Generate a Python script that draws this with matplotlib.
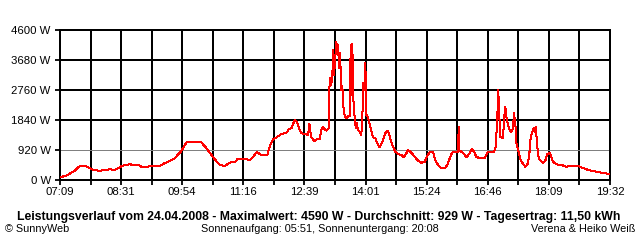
import numpy as np
import matplotlib
matplotlib.use("Agg")
import matplotlib.pyplot as plt

# ---- data (time in minutes since midnight, power in W) ----
minutes = [430, 435, 440, 444, 449, 452, 456, 460, 466, 471, 476, 483, 489, 496, 503, 507, 512, 516, 523, 530, 536,
           539, 543, 550, 559, 564, 570, 577, 583, 587, 592, 595, 600, 606, 613, 620, 623, 627, 631, 636, 640, 645,
           647, 651, 656, 660, 665, 669, 676, 681, 685, 690, 695, 701, 709, 711, 714, 717, 721, 728, 735, 738, 742,
           746, 749, 752, 754, 757, 761, 764, 766, 768, 771, 773, 777, 780, 782, 784, 787, 789, 792,
           792.8, 794.2, 795.5, 796.9, 798.2, 799.2, 800.9, 802.3, 803.6, 804.6, 805.9, 807.3, 809.0, 810.4,
           811.7, 813.6, 815.8, 818.1, 820.4, 821.7, 823.1, 823.9, 825.2, 827.1, 828.5, 829.8, 831.6, 833.9,
           836.0, 837.4, 838.7, 840.1, 841.5, 842.8, 845.1, 847.4, 849.6, 851.9, 855.0, 857.3, 860.9,
           865.4, 868.5, 871.2, 873.1, 875.8, 878.9, 882.0, 885.6, 890.1, 893.7, 896.9, 899.1, 903.6, 908.2,
           912.7, 917.1, 921.7, 925.2, 928.5, 932.9, 936.0, 939.7, 944.1, 948.7, 952.2, 955.5, 958.6, 962.2,
           966.7, 967.6, 968.5,
           973.4, 977.9, 982.5, 985.6, 988.3, 991.4, 996.0, 1002.8, 1006.3, 1009.5, 1015.3, 1017.6, 1019.8,
           1020.7, 1022.1, 1023.4, 1027.5, 1028.8, 1030.6, 1031.9, 1034.2, 1036.5, 1038.7, 1041.0, 1042.3,
           1044.1, 1045.5, 1047.8, 1051.4, 1054.5, 1057.6, 1061.3, 1063.6, 1064.9, 1066.7, 1068.4, 1070.3,
           1071.7, 1073.8, 1075.7, 1078.4,
           1081.5, 1084.6, 1087.3, 1090.6, 1092.7, 1095.0, 1099.5, 1106.3, 1110.8, 1113.0, 1117.6, 1128.8,
           1133.3, 1140.0, 1146.8, 1153.5, 1160.3, 1167.0, 1170.7]
watts = [83, 123, 153, 224, 285, 359, 429, 439, 408, 337, 297, 285, 307, 328, 307, 359, 420, 451, 481, 460, 451,
         408, 399, 420, 420, 439, 512, 583, 644, 745, 868, 972, 1156, 1175, 1156, 1165, 1073, 972, 850, 696, 583, 460,
         451, 429, 491, 552, 543, 644, 644, 635, 604, 715, 859, 767, 767, 920, 1126, 1248, 1297, 1411, 1451, 1555, 1604,
         1840, 1788, 1586, 1472, 1411, 1411, 1371, 1717, 1340, 1236, 1187, 1267, 1267, 1543, 1616, 1543, 1512, 1595,
         2822, 3128, 2923, 3229, 3996, 3229, 3742, 4232, 3947, 4149, 3435, 3895, 2769, 2874,
         2260, 1954, 1901, 1954, 1954, 4149, 2616, 4171, 2515, 1901, 1595, 1748, 1543, 1472,
         1389, 1901, 2975, 2769, 3588, 2003, 1923, 1696, 1494, 1310, 1288, 1135, 1000,
         1227, 1432, 1512, 1432, 1227, 1021, 868, 797, 767, 696, 819, 920, 837, 715,
         592, 531, 561, 736, 868, 868, 613, 460, 359, 359, 460, 665, 837, 868,
         868, 1616, 905,
         837, 696, 819, 951, 868, 715, 665, 665, 837, 868, 868, 1021, 1892,
         2760, 2352, 1328, 1279, 1840, 2248, 1941, 1687, 1534, 1481, 1586, 2046,
         1739, 1126, 920, 613, 491, 408, 512, 920, 1328, 1432, 1586, 1481,
         1641, 1021, 665, 592,
         512, 592, 797, 837, 715, 561, 481, 460, 429, 408, 429, 429,
         390, 328, 285, 255, 224, 205, 175]

x_tick_labels = ["07:09", "08:31", "09:54", "11:16", "12:39", "14:01", "15:24", "16:46", "18:09", "19:32"]
y_ticks = [0, 920, 1840, 2760, 3680, 4600]
y_tick_labels = ["0 W", "920 W", "1840 W", "2760 W", "3680 W", "4600 W"]

title_text = "Leistungsverlauf vom 24.04.2008 - Maximalwert: 4590 W - Durchschnitt: 929 W - Tagesertrag: 11,50 kWh"
left_note = "© SunnyWeb"
mid_note = "Sonnenaufgang: 05:51, Sonnenuntergang: 20:08"
right_note = "Verena & Heiko Weiß"

# ---- figure ----
plt.rcParams['font.family'] = ['Liberation Sans', 'DejaVu Sans']
fig = plt.figure(figsize=(6.4, 2.4), dpi=100, facecolor="white")
ax = fig.add_axes([60/640, 1 - 180/240, 550/640, 150/240])


def to_min(s):
    h, m = s.split(":")
    return int(h) * 60 + int(m)


t0 = to_min(x_tick_labels[0])
t1 = to_min(x_tick_labels[-1])
all_ticks = np.linspace(t0, t1, 2 * (len(x_tick_labels) - 1) + 1)

ax.set_xlim(t0, t1)
ax.set_ylim(0, y_ticks[-1])

LW1 = 0.72   # ~1 px
LW2 = 1.3    # ~2 px

for xv in all_ticks:
    ax.axvline(xv, color="black", lw=LW2, zorder=1, antialiased=False)
for yv in y_ticks:
    if yv == 920:
        ax.axhline(yv, color="#808080", lw=LW1, zorder=1, antialiased=False)
    else:
        ax.axhline(yv, color="black", lw=LW2, zorder=1, antialiased=False)

ax.plot(minutes, watts, color="#ff0000", lw=LW1, zorder=3, antialiased=False)

ax.set_xticks(all_ticks)
ax.set_xticklabels([x_tick_labels[i // 2] if i % 2 == 0 else "" for i in range(len(all_ticks))])
ax.set_yticks(y_ticks)
ax.set_yticklabels(y_tick_labels)
ax.tick_params(axis="both", direction="out", length=3.6, width=LW2, color="black",
               labelsize=8.2, pad=1.5)
ax.tick_params(axis="y", pad=3)
for sp in ax.spines.values():
    sp.set_color("black")
    sp.set_linewidth(LW2)
    sp.set_antialiased(False)

fig.text(319/640, 1 - 217/240, title_text, ha="center", va="center", fontsize=8.85, fontweight="bold")
fig.text(5/640, 1 - 229/240, left_note, ha="left", va="center", fontsize=7.8)
fig.text(320/640, 1 - 229/240, mid_note, ha="center", va="center", fontsize=7.8)
fig.text(635/640, 1 - 229/240, right_note, ha="right", va="center", fontsize=7.8)

fig.savefig("out.png", dpi=100, facecolor="white")
